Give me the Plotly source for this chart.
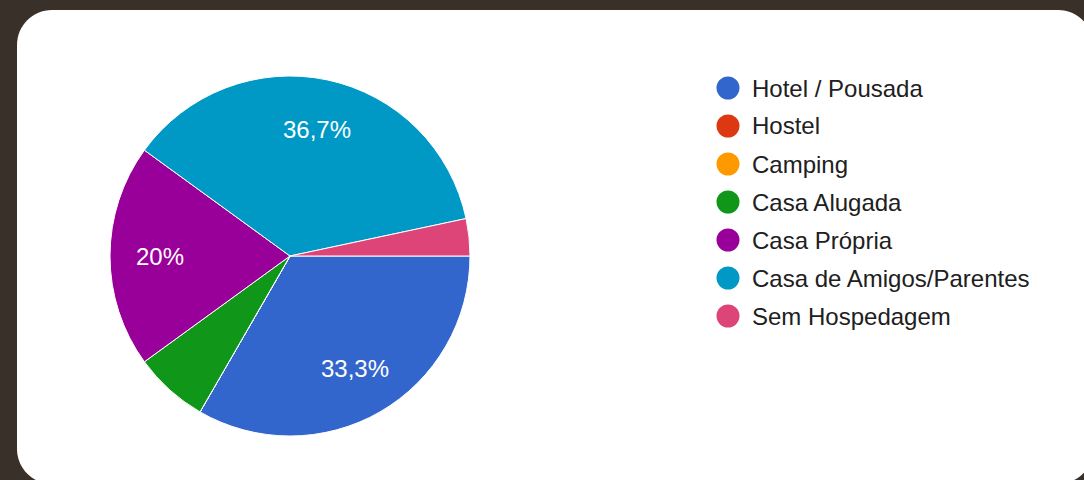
import math
import plotly.graph_objects as go

# ---- data ----
labels = ["Hotel / Pousada", "Hostel", "Camping", "Casa Alugada",
          "Casa Própria", "Casa de Amigos/Parentes", "Sem Hospedagem"]
counts = [10, 0, 0, 2, 6, 11, 1]
colors = ["#3366cc", "#dc3912", "#ff9900", "#109618",
          "#990099", "#0099c6", "#dd4477"]
shown_labels = [True, False, False, False, True, True, False]

W, H = 1084, 480
BG = "#3a302a"
FONT = "Liberation Sans, Arial, sans-serif"

def px(x):
    return x / W

def py(y):
    return 1 - y / H

# pie placement (pixels)
cx, cy, R = 290, 256, 180

fig = go.Figure()
fig.add_trace(go.Pie(
    labels=labels,
    values=counts,
    sort=False,
    direction="clockwise",
    rotation=90,
    marker=dict(colors=colors, line=dict(color="white", width=1)),
    textinfo="none",
    hoverinfo="label+percent",
    showlegend=False,
    domain=dict(x=[px(cx - R), px(cx + R)], y=[py(cy + R), py(cy - R)]),
))

annotations = []

# percentage labels placed at slice mid-angles (derived from the data)
total = sum(counts)
cum = 0
for c, s in zip(counts, shown_labels):
    if s and c > 0:
        mid = (cum + c / 2) / total * 2 * math.pi  # clockwise from 3 o'clock
        lxp = cx + 0.72 * R * math.cos(mid)
        lyp = cy + 0.72 * R * math.sin(mid)
        pct = c / total * 100
        txt = (f"{pct:.1f}".rstrip("0").rstrip(".")).replace(".", ",") + "%"
        annotations.append(dict(x=px(lxp), y=py(lyp), xref="paper", yref="paper",
                                text=txt, showarrow=False, xanchor="center",
                                yanchor="middle",
                                font=dict(family=FONT, size=24, color="white")))
    cum += c

# white rounded card
x0, y0, x1, y1, r = 17, 10, 1093, 484, 35
k = 0.5523 * r
path = (
    f"M {px(x0 + r)},{py(y0)} L {px(x1 - r)},{py(y0)} "
    f"C {px(x1 - r + k)},{py(y0)} {px(x1)},{py(y0 + r - k)} {px(x1)},{py(y0 + r)} "
    f"L {px(x1)},{py(y1 - r)} "
    f"C {px(x1)},{py(y1 - r + k)} {px(x1 - r + k)},{py(y1)} {px(x1 - r)},{py(y1)} "
    f"L {px(x0 + r)},{py(y1)} "
    f"C {px(x0 + r - k)},{py(y1)} {px(x0)},{py(y1 - r + k)} {px(x0)},{py(y1 - r)} "
    f"L {px(x0)},{py(y0 + r)} "
    f"C {px(x0)},{py(y0 + r - k)} {px(x0 + r - k)},{py(y0)} {px(x0 + r)},{py(y0)} Z"
)
shapes = [dict(type="path", xref="paper", yref="paper", path=path,
               fillcolor="white", line=dict(width=0), layer="below")]

# custom legend with circle markers
lx, ly0, dy, mr = 728, 88, 38, 11.5
for i, (lab, col) in enumerate(zip(labels, colors)):
    yc = ly0 + i * dy
    shapes.append(dict(type="circle", xref="paper", yref="paper",
                       x0=px(lx - mr), x1=px(lx + mr), y0=py(yc + mr), y1=py(yc - mr),
                       fillcolor=col, line=dict(width=0)))
    annotations.append(dict(x=px(750), y=py(yc), xref="paper", yref="paper",
                            text=lab, showarrow=False, xanchor="left", yanchor="middle",
                            font=dict(family=FONT, size=24, color="#202020")))

fig.update_layout(
    width=W, height=H,
    margin=dict(l=0, r=0, t=0, b=0),
    paper_bgcolor=BG,
    plot_bgcolor=BG,
    separators=",.",
    shapes=shapes,
    annotations=annotations,
)

fig.write_html(
    "out.html",
    config={"displayModeBar": False},
    post_script=("document.body.style.margin='0';"
                 "document.body.style.background='" + BG + "';"
                 "document.body.style.overflow='hidden';"),
)
